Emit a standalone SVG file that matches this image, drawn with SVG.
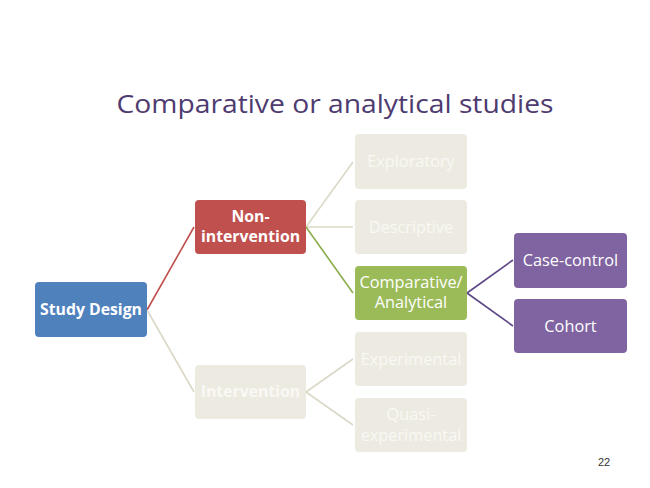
<svg xmlns="http://www.w3.org/2000/svg" width="650" height="488" viewBox="0 0 650 488">
<style>
.t{font-family:"Open Sans","Liberation Sans",sans-serif;text-anchor:middle;fill:#fff}
.b{font-weight:bold;font-size:15.8px}
.r{font-size:16.3px}
.fade rect{fill:#EDEBE1}
.fade text{fill:#F9F8F4}
.ln{fill:none;stroke-width:1.6}
</style>
<rect width="650" height="488" fill="#fff"/>
<text x="335" y="113" font-family="Open Sans, Liberation Sans, sans-serif" font-size="25" fill="#4E3B70" text-anchor="middle" textLength="437" lengthAdjust="spacingAndGlyphs">Comparative or analytical studies</text>
<g id="connectors" class="ln">
<line x1="147" y1="310" x2="194" y2="227" stroke="#C0504D"/>
<line x1="147" y1="310" x2="194" y2="392" stroke="#DCD8C6"/>
<line x1="306" y1="227" x2="353" y2="162" stroke="#DCD8C6"/>
<line x1="306" y1="227" x2="353" y2="227" stroke="#DCD8C6"/>
<line x1="306" y1="227" x2="353" y2="293" stroke="#8AAD4B"/>
<line x1="306" y1="392" x2="353" y2="359" stroke="#DCD8C6"/>
<line x1="306" y1="392" x2="353" y2="425" stroke="#DCD8C6"/>
<line x1="467" y1="293" x2="513" y2="260" stroke="#5E4886"/>
<line x1="467" y1="293" x2="513" y2="326" stroke="#5E4886"/>
</g>
<g id="study-design"><rect x="35" y="282" width="112" height="55" rx="4" fill="#4F81BD"/><text class="t b" x="91" y="315">Study Design</text></g>
<g id="non-intervention"><rect x="195" y="200" width="111" height="54" rx="4" fill="#C0504D"/><text class="t b" x="250.5" y="222">Non-</text><text class="t b" x="250.5" y="242">intervention</text></g>
<g id="intervention" class="fade"><rect x="195" y="365" width="111" height="54" rx="4"/><text class="t b" x="250.5" y="397">Intervention</text></g>
<g id="exploratory" class="fade"><rect x="355" y="134" width="112" height="55" rx="4"/><text class="t r" x="411" y="167">Exploratory</text></g>
<g id="descriptive" class="fade"><rect x="355" y="200" width="112" height="54" rx="4"/><text class="t r" x="411" y="233">Descriptive</text></g>
<g id="comparative"><rect x="355" y="266" width="112" height="54" rx="4" fill="#9BBB59"/><text class="t r" x="411" y="288">Comparative/</text><text class="t r" x="411" y="308">Analytical</text></g>
<g id="experimental" class="fade"><rect x="355" y="332" width="112" height="54" rx="4"/><text class="t r" x="411" y="365">Experimental</text></g>
<g id="quasi" class="fade"><rect x="355" y="398" width="112" height="54" rx="4"/><text class="t r" x="411" y="420">Quasi-</text><text class="t r" x="411" y="441">experimental</text></g>
<g id="case-control"><rect x="514" y="233" width="113" height="55" rx="4" fill="#8064A2"/><text class="t r" x="570.5" y="266">Case-control</text></g>
<g id="cohort"><rect x="514" y="299" width="113" height="54" rx="4" fill="#8064A2"/><text class="t r" x="570.5" y="332">Cohort</text></g>
<text x="604" y="466" font-family="Liberation Sans, Arial, sans-serif" font-size="11" fill="#333" text-anchor="middle">22</text>
</svg>
